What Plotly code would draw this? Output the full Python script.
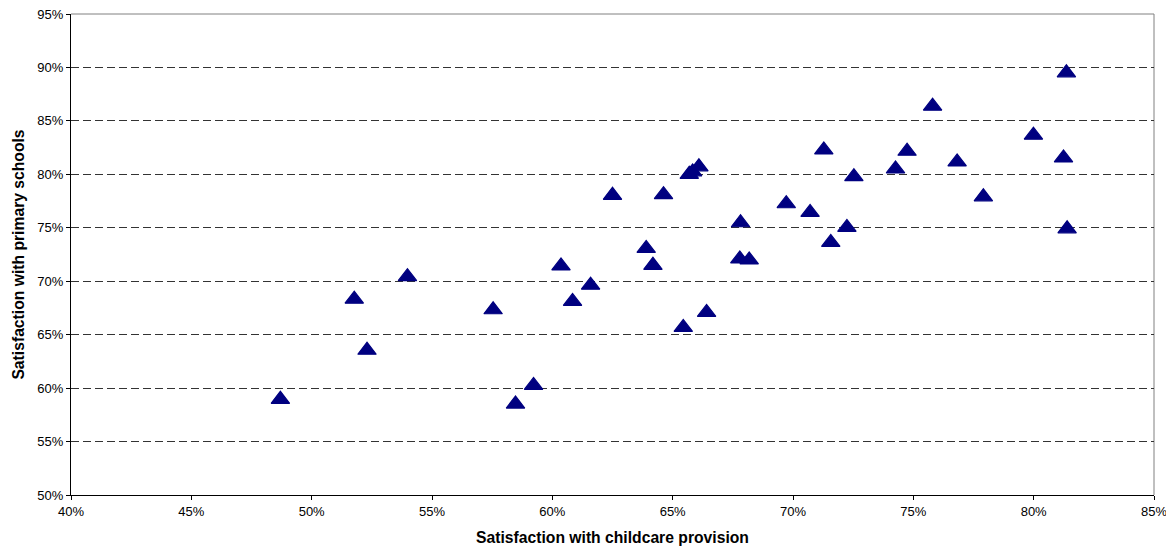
import plotly.graph_objects as go

# Satisfaction with childcare provision (%)
childcare = [48.7, 51.77, 52.3, 53.98, 57.54, 58.47, 59.22, 60.36, 60.84, 61.59,
             62.5, 63.9, 64.18, 64.62, 65.44, 65.69, 65.83, 66.09, 66.41, 67.82,
             67.79, 68.18, 69.72, 70.71, 71.57, 71.28, 72.24, 72.53, 74.26, 74.74,
             75.8, 76.82, 77.91, 79.99, 81.36, 81.24, 81.39]
# Satisfaction with primary schools (%)
primary = [58.95, 68.32, 63.54, 70.43, 67.33, 58.51, 60.25, 71.43, 68.11, 69.63,
           78.04, 73.07, 71.49, 78.1, 65.68, 80.0, 80.23, 80.7, 67.08, 75.47,
           72.08, 71.99, 77.25, 76.44, 73.63, 82.28, 75.03, 79.78, 80.5, 82.16,
           86.38, 81.16, 77.9, 83.66, 89.5, 81.53, 74.9]

x_title = "Satisfaction with childcare provision"
y_title = "Satisfaction with primary schools"
x_ticks = [40, 45, 50, 55, 60, 65, 70, 75, 80, 85]
y_ticks = [50, 55, 60, 65, 70, 75, 80, 85, 90, 95]

FAM = "Liberation Sans, Arial, sans-serif"

fig = go.Figure()
fig.add_trace(go.Scatter(
    x=childcare, y=primary, mode="markers",
    marker=dict(symbol="triangle-up", size=16, color="#000080",
                line=dict(color="#000080", width=1.2)),
    showlegend=False, hoverinfo="x+y",
))

# the page body has an 8px margin, so the figure is sized/offset to compensate
fig.update_layout(
    width=1166, height=544,
    margin=dict(l=63, r=20, t=6, b=57),
    paper_bgcolor="white", plot_bgcolor="white",
    font=dict(family=FAM, size=13, color="#000000"),
    xaxis=dict(
        range=[40, 85], tickvals=x_ticks, ticktext=[f"{v}%" for v in x_ticks],
        showgrid=False, zeroline=False, automargin=False, ticklabeloverflow="allow",
        showline=True, linecolor="#000000", linewidth=1,
        ticks="outside", ticklen=4, tickcolor="#000000",
        tickfont=dict(family=FAM, size=13, color="#000000"),
        title=dict(text=f"<b>{x_title}</b>", font=dict(size=15.7, family=FAM),
                   standoff=14),
    ),
    yaxis=dict(
        range=[50, 95], tickvals=y_ticks, ticktext=[f"{v}%" for v in y_ticks],
        showgrid=True, gridcolor="#333333", gridwidth=1, griddash="8px,4px",
        zeroline=False, automargin=False, ticklabeloverflow="allow",
        showline=True, linecolor="#000000", linewidth=1,
        ticks="outside", ticklen=4, tickcolor="#000000",
        tickfont=dict(family=FAM, size=13, color="#000000"),
        title=dict(text=f"<b>{y_title}</b>", font=dict(size=15.7, family=FAM),
                   standoff=8),
    ),
)

# gray frame on top and right
fig.add_shape(type="line", xref="x domain", yref="y domain", x0=0, x1=1, y0=1, y1=1,
              line=dict(color="#808080", width=1), layer="below")
fig.add_shape(type="line", xref="x domain", yref="y domain", x0=1, x1=1, y0=0, y1=1,
              line=dict(color="#808080", width=1), layer="below")

fig.write_html("out.html")
